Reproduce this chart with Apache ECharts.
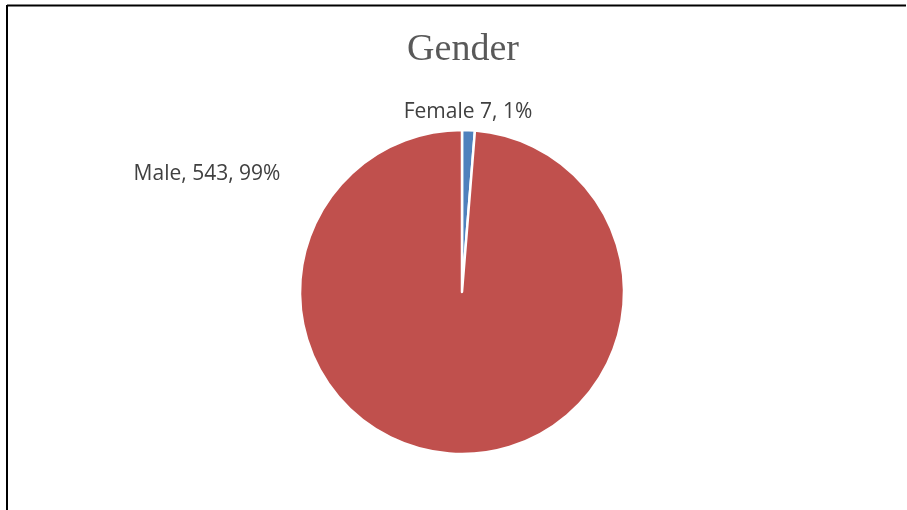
<!DOCTYPE html>
<html>
<head>
<meta charset="utf-8">
<script src="https://cdn.jsdelivr.net/npm/echarts@6/dist/echarts.min.js"></script>
<style>html,body{margin:0;padding:0;background:#fff;}#c{width:907px;height:510px;}</style>
</head>
<body>
<div id="c"></div>
<script>
const titleText = 'Gender';
const categories = ['Female', 'Male'];
const values = [7, 543];
const colors = ['#4f81bd', '#c0504d'];

const chart = echarts.init(document.getElementById('c'), null, {renderer: 'canvas'});
const labelPos = [[468, 112], [207, 174]];
chart.setOption({
  backgroundColor: '#ffffff',
  animation: false,
  title: {
    text: titleText, left: 458, top: 26, textAlign: 'center',
    textStyle: {fontFamily: 'Liberation Serif', fontSize: 38, fontWeight: 'normal', color: '#595959'}
  },
  graphic: [
    {type: 'line', shape: {x1: 7, y1: 5.5, x2: 906, y2: 5.5}, style: {stroke: '#000', lineWidth: 2}},
    {type: 'line', shape: {x1: 7, y1: 5, x2: 7, y2: 510}, style: {stroke: '#000', lineWidth: 2}}
  ],
  series: [{
    type: 'pie',
    center: [462, 292],
    radius: [0, 162],
    startAngle: 90,
    clockwise: true,
    percentPrecision: 0,
    data: categories.map((n, i) => ({name: n, value: values[i], itemStyle: {color: colors[i]}})),
    itemStyle: {borderColor: '#fff', borderWidth: 2.5},
    label: {
      show: true,
      fontFamily: 'Open Sans',
      fontSize: 21,
      color: '#404040',
      formatter: p => p.dataIndex === 0 ? `${p.name} ${p.value}, ${p.percent}%` : `${p.name}, ${p.value}, ${p.percent}%`
    },
    labelLine: {show: false},
    labelLayout: p => ({x: labelPos[p.dataIndex][0], y: labelPos[p.dataIndex][1], align: 'center', verticalAlign: 'middle'}),
    emphasis: {disabled: true}
  }]
});
</script>
</body>
</html>
